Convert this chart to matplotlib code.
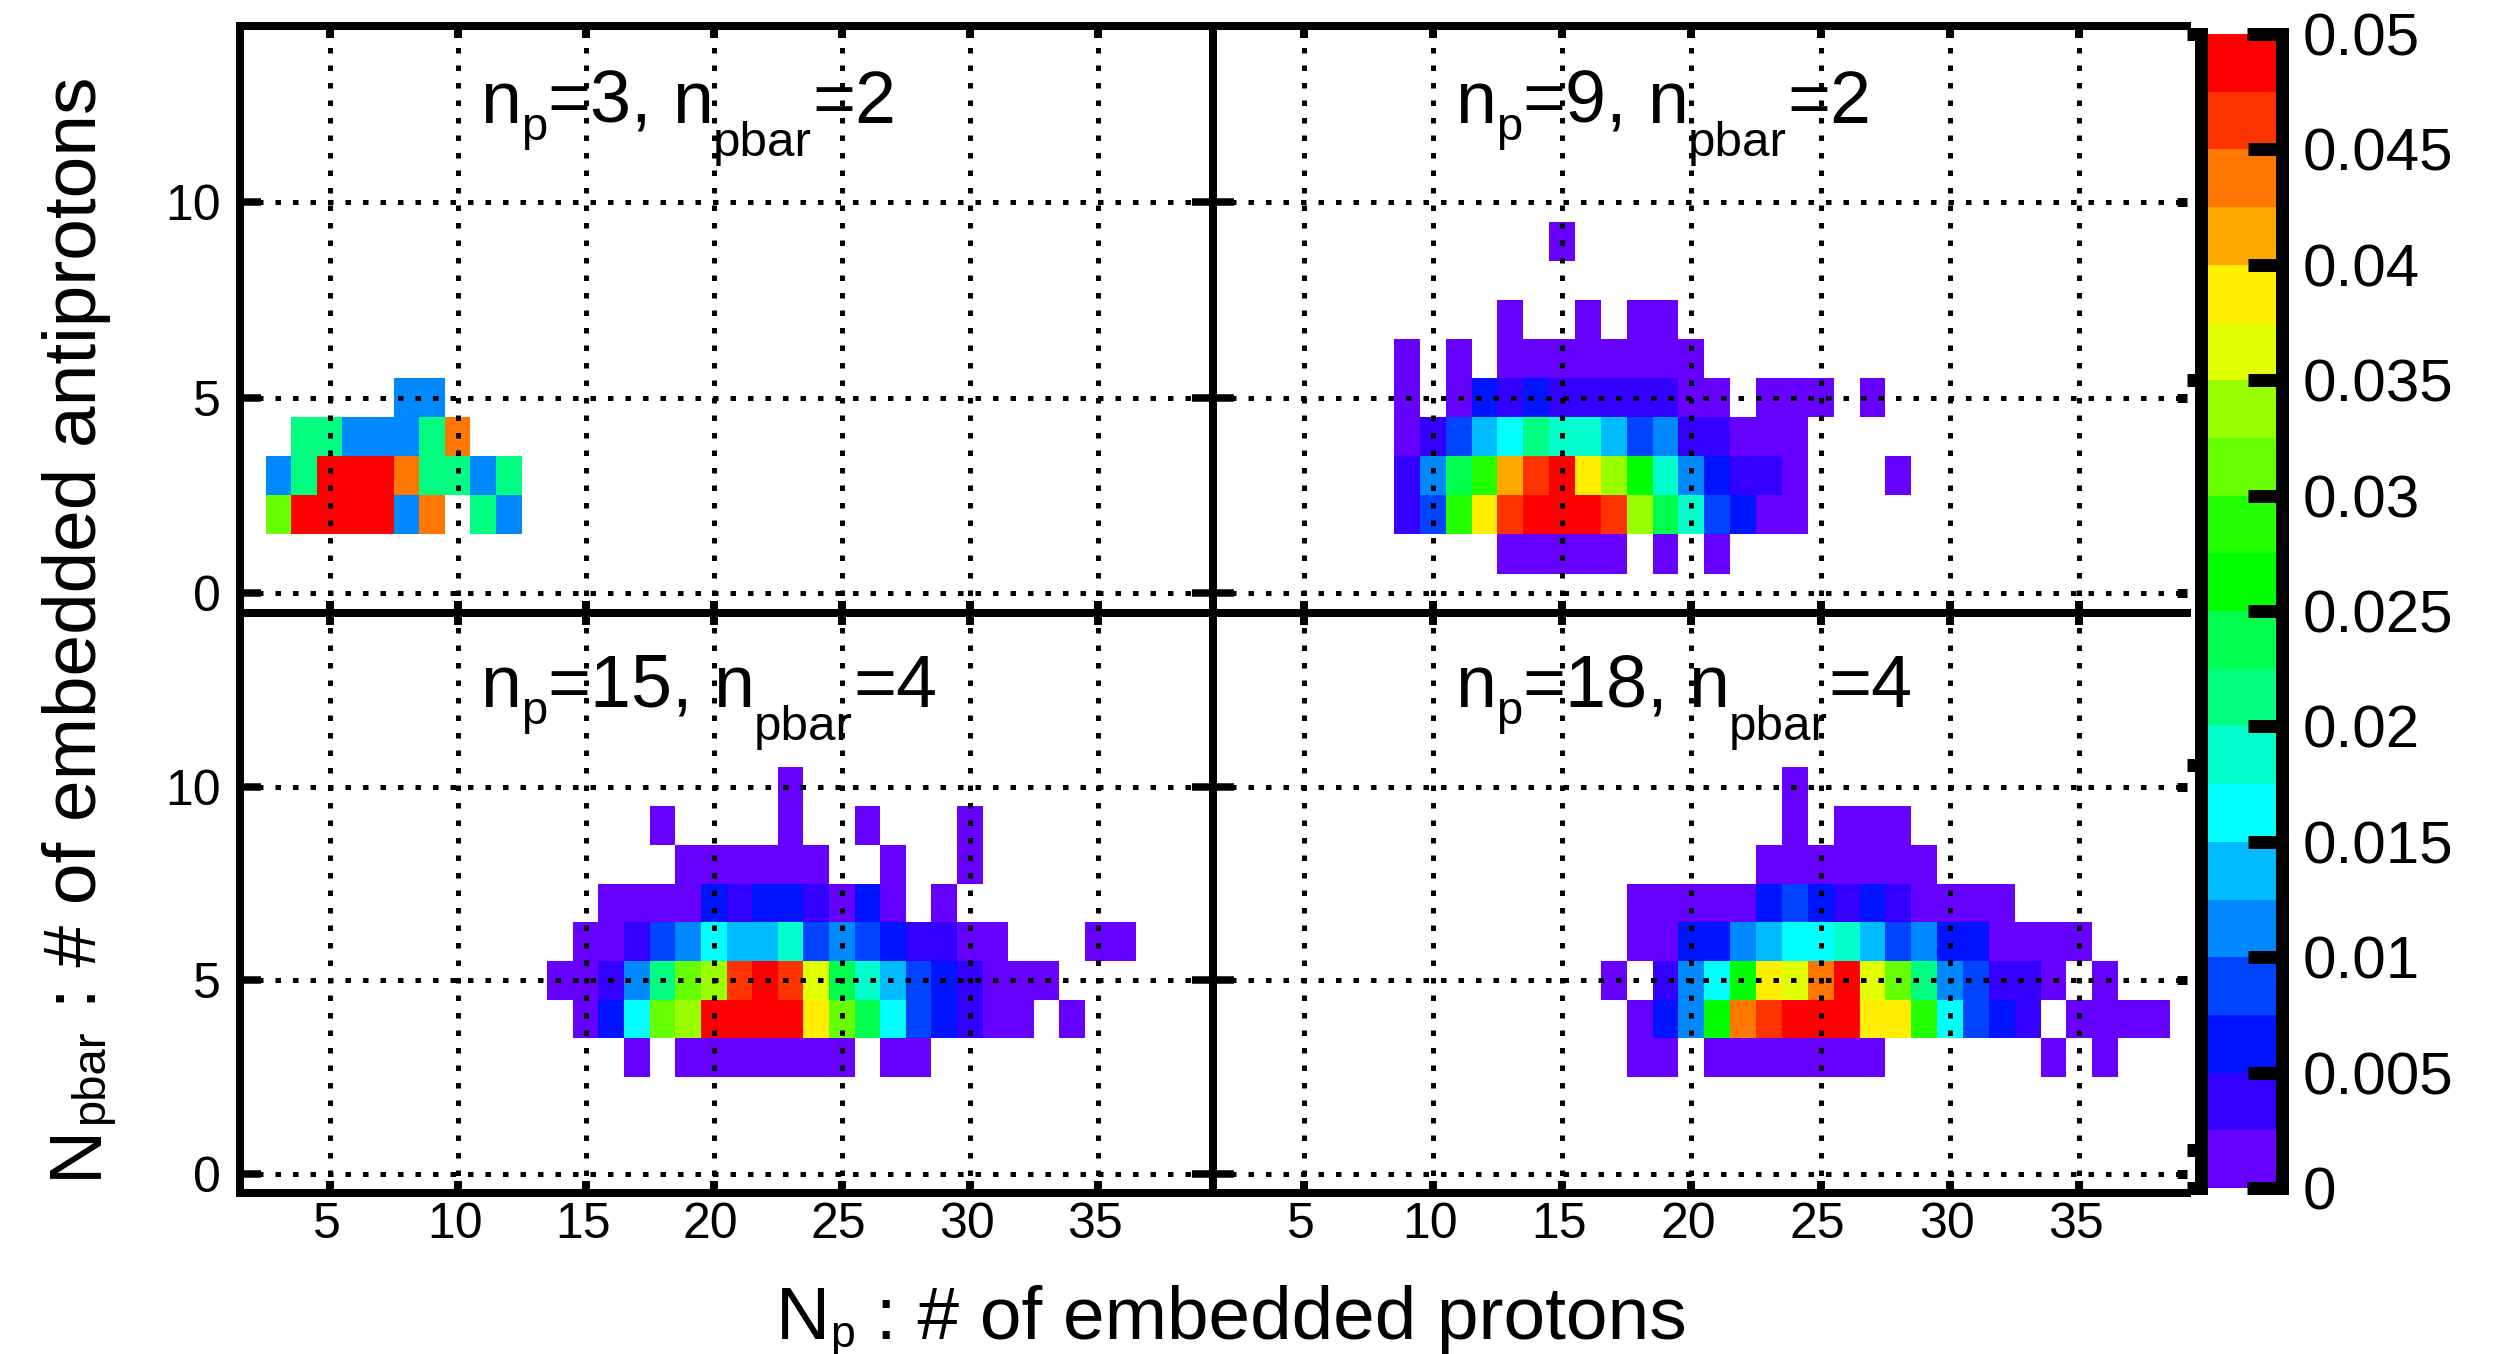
import numpy as np
import matplotlib
matplotlib.use("Agg")
import matplotlib.pyplot as plt
from matplotlib.colors import ListedColormap, BoundaryNorm
from matplotlib.font_manager import FontProperties
from matplotlib.transforms import ScaledTranslation

W, H, DPI = 2493, 1354, 100
plt.rcParams['font.family'] = ['Liberation Sans', 'DejaVu Sans']
plt.rcParams['lines.scale_dashes'] = False

PX = 72.0 / DPI

# Colour bands of the scale, bottom to top (one per 0.0025)
band_colors = ['#6600FF', '#3300FF', '#0014FF', '#0044FF', '#0088FF', '#00BBFF', '#00FFFF',
               '#00FFCC', '#00FF80', '#00FF4C', '#00FF00', '#22FF00', '#66FF00', '#99FF00',
               '#E0FF00', '#FFEE00', '#FFA800', '#FF7700', '#FF3300', '#FF0000']
scale_levels = [i * 0.0025 for i in range(21)]
scale_ticks = [0, 0.005, 0.01, 0.015, 0.02, 0.025, 0.03, 0.035, 0.04, 0.045, 0.05]
scale_labels = ['0', '0.005', '0.01', '0.015', '0.02', '0.025', '0.03', '0.035', '0.04', '0.045', '0.05']
x_ticks = [5, 10, 15, 20, 25, 30, 35]
y_ticks = [0, 5, 10]

# Values in thousandths; row N_pbar -> (first N_p, values); 0 = empty cell
np3_rows = {
    2: (3, [31, 49, 49, 49, 49, 11, 44, 0, 21, 11]),
    3: (3, [11, 21, 49, 49, 49, 44, 21, 21, 11, 21]),
    4: (4, [21, 21, 11, 11, 11, 21, 44]),
    5: (8, [11, 11]),
}
np9_rows = {
    1: (13, [1, 1, 1, 1, 1, 0, 1, 0, 1]),
    2: (9, [4, 9, 29, 39, 46, 49, 49, 49, 46, 34, 24, 19, 9, 6, 1, 1]),
    3: (9, [4, 11, 24, 29, 41, 46, 49, 39, 34, 26, 19, 11, 6, 4, 4, 1, 0, 0, 0, 1]),
    4: (9, [1, 4, 9, 14, 16, 21, 19, 19, 14, 9, 11, 4, 4, 1, 1, 1]),
    5: (9, [1, 0, 1, 6, 4, 6, 4, 4, 4, 4, 4, 1, 1, 0, 1, 1, 1, 0, 1]),
    6: (9, [1, 0, 1, 0, 1, 1, 1, 1, 1, 1, 1, 1]),
    7: (13, [1, 0, 0, 1, 0, 1, 1]),
    9: (15, [1]),
}
np15_rows = {
    3: (17, [1, 0, 1, 1, 1, 1, 1, 1, 1, 0, 1, 1]),
    4: (15, [1, 6, 16, 31, 34, 49, 49, 49, 49, 39, 31, 24, 16, 9, 6, 4, 1, 1, 0, 1]),
    5: (14, [1, 1, 4, 11, 21, 31, 34, 46, 49, 46, 36, 24, 19, 14, 9, 6, 4, 1, 1, 1]),
    6: (15, [1, 1, 4, 9, 11, 16, 14, 14, 19, 9, 11, 9, 6, 4, 4, 1, 1, 0, 0, 0, 1, 1]),
    7: (16, [1, 1, 1, 1, 6, 4, 6, 6, 4, 1, 6, 1, 0, 1]),
    8: (19, [1, 1, 1, 1, 1, 1, 0, 0, 1, 0, 0, 1]),
    9: (18, [1, 0, 0, 0, 0, 1, 0, 0, 1, 0, 0, 0, 1]),
    10: (23, [1]),
}
np18_rows = {
    3: (18, [1, 1, 0, 1, 1, 1, 1, 1, 1, 1, 0, 0, 0, 0, 0, 0, 1, 0, 1]),
    4: (18, [1, 6, 11, 26, 44, 46, 49, 49, 49, 39, 39, 29, 16, 9, 6, 4, 0, 1, 1, 1, 1]),
    5: (17, [1, 0, 4, 11, 16, 26, 39, 36, 44, 49, 36, 31, 21, 11, 9, 4, 4, 1, 0, 1]),
    6: (18, [1, 1, 6, 6, 11, 14, 16, 16, 19, 14, 9, 11, 6, 6, 1, 1, 1, 1]),
    7: (18, [1, 1, 1, 1, 1, 6, 9, 6, 4, 6, 4, 1, 1, 1, 1]),
    8: (23, [1, 1, 1, 1, 1, 1, 1]),
    9: (24, [1, 0, 1, 1, 1]),
    10: (24, [1]),
}

cmap = ListedColormap(band_colors)
norm = BoundaryNorm(scale_levels, cmap.N)

fig = plt.figure(figsize=(W / DPI, H / DPI), dpi=DPI, facecolor='white')
renderer = fig.canvas.get_renderer()


def box(x0, y0, x1, y1):
    return [x0 / W, 1 - y1 / H, (x1 - x0) / W, (y1 - y0) / H]


def grid_of(rows):
    z = np.zeros((15, 39))
    for ny, (start, vals) in rows.items():
        for i, v in enumerate(vals):
            z[ny, start + i - 1] = v / 1000.0
    return np.ma.masked_where(z == 0, z)


def panel(rect, xlim, rows, left_labels, bottom_labels, is_right):
    ax = fig.add_axes(box(*rect))
    xe = np.arange(0.5, 40.5)
    ye = np.arange(-0.5, 15.5)
    ax.pcolormesh(xe, ye, grid_of(rows), cmap=cmap, norm=norm, antialiased=False, linewidth=0)
    ax.set_xlim(*xlim)
    ax.set_ylim(-0.5, 14.5)
    ax.set_xticks(x_ticks)
    ax.set_yticks(y_ticks)
    ax.set_axisbelow(False)
    ax.grid(True, color='k', linewidth=5 * PX, linestyle=(0, (5.5 * PX, 12 * PX)))
    for s in ax.spines.values():
        s.set_linewidth(8 * PX)
        s.set_capstyle('projecting')
    ax.tick_params(axis='x', which='major', direction='in', top=True, bottom=True,
                   length=12 * PX, width=8 * PX, labelsize=36, pad=9 * PX,
                   labelbottom=bottom_labels)
    ax.tick_params(axis='y', which='major', direction='in', left=True, right=not is_right,
                   length=21 * PX, width=7.5 * PX, labelsize=36, pad=19 * PX,
                   labelleft=left_labels)
    shift = ScaledTranslation(-3 / DPI, 0, fig.dpi_scale_trans)
    for lab in ax.get_xticklabels():
        lab.set_transform(lab.get_transform() + shift)
    if is_right:
        ax.spines['right'].set_visible(False)
        frac = 10.0 / (rect[2] - rect[0])
        tr = ax.get_yaxis_transform()
        for yv in y_ticks:
            ax.plot([1 - frac, 1], [yv, yv], color='k', lw=9 * PX, transform=tr,
                    clip_on=False, solid_capstyle='butt')
    return ax


LX0, MX, RX = 240, 1213, 2187
TY, MY, BY = 26, 612.7, 1193
RIGHT_XLIM = (1.5, 1.5 + (RX - MX) / 25.86)

panel((LX0, TY, MX, MY), (1.5, 39.5), np3_rows, True, False, False)
panel((MX, TY, RX, MY), RIGHT_XLIM, np9_rows, False, False, True)
panel((LX0, MY, MX, BY), (1.5, 39.5), np15_rows, True, True, False)
panel((MX, MY, RX, BY), RIGHT_XLIM, np18_rows, False, True, True)

# Colour scale
CX0, CX1, CY0, CY1 = 2200.5, 2281.5, 34, 1188
cax = fig.add_axes(box(CX0, CY0, CX1, CY1))
mids = np.array([(a + b) / 2 for a, b in zip(scale_levels[:-1], scale_levels[1:])]).reshape(-1, 1)
cax.pcolormesh([0, 1], scale_levels, mids, cmap=cmap, norm=norm, antialiased=False, linewidth=0)
cax.set_xlim(0, 1)
cax.set_ylim(0, 0.05)
cax.set_xticks([])
cax.yaxis.tick_right()
cax.set_yticks(scale_ticks)
cax.set_yticklabels(scale_labels)
cax.tick_params(axis='y', direction='in', length=34 * PX, width=13 * PX, labelsize=43.3, pad=21 * PX)
for name, s in cax.spines.items():
    s.set_linewidth(13 * PX)
    if name in ('top', 'bottom'):
        s.set_visible(False)
for v in [0, 0.00165, 0.01833, 0.035, 0.05]:
    cax.plot([-13.5 / (CX1 - CX0), 0], [v, v], color='k', lw=13 * PX, solid_capstyle='butt',
             transform=cax.get_yaxis_transform(), clip_on=False)
for v in [0, 0.05]:
    cax.plot([(2247 - CX0) / (CX1 - CX0), 1], [v, v], color='k', lw=13 * PX, solid_capstyle='butt',
             transform=cax.get_yaxis_transform(), clip_on=False)


def advance(s, size):
    fp = FontProperties(family='Liberation Sans', size=size)
    w0 = renderer.get_text_width_height_descent(s + '|', fp, False)[0]
    w1 = renderer.get_text_width_height_descent('|', fp, False)[0]
    return w0 - w1


def run(x, y, pieces, rotation=0):
    """Place text pieces (text, size in pt, baseline drop in px) one after another."""
    c, s = (1, 0) if rotation == 0 else (0, 1)
    for text, size, drop in pieces:
        px = x + (drop * s)
        py = y + (drop * c)
        fig.text(px / W, 1 - py / H, text, fontsize=size, ha='left', va='baseline',
                 rotation=rotation, rotation_mode='anchor', color='k')
        a = advance(text, size)
        x += a * c
        y -= a * s


MAIN = 53
SUB_P = 34
SUB_PBAR = 35.5


def title(x, y, np_val, npbar_val):
    run(x, y, [('n', MAIN, 0), ('p', SUB_P, 17), ('=' + np_val + ',', MAIN, 0)], 0)
    first = advance('n', MAIN) + advance('p', SUB_P) + advance('=' + np_val + ', ', MAIN)
    run(x + first, y, [('n', MAIN, 0), ('pbar', SUB_PBAR, 33), ('=' + npbar_val, MAIN, 0)], 0)


title(480, 123, '3', '2')
title(1455, 123, '9', '2')
title(480, 707, '15', '4')
title(1455, 707, '18', '4')

AX = 53.9
run(776, 1339, [('N', AX, 0), ('p', 32, 8), (' : # of embedded protons', AX, 0)])
run(96, 1178, [('N', AX, 0), ('pbar', 34, 7), (' : # of embedded antiprotons', AX, 0)], rotation=90)

fig.savefig('out.png', dpi=DPI, facecolor='white')
